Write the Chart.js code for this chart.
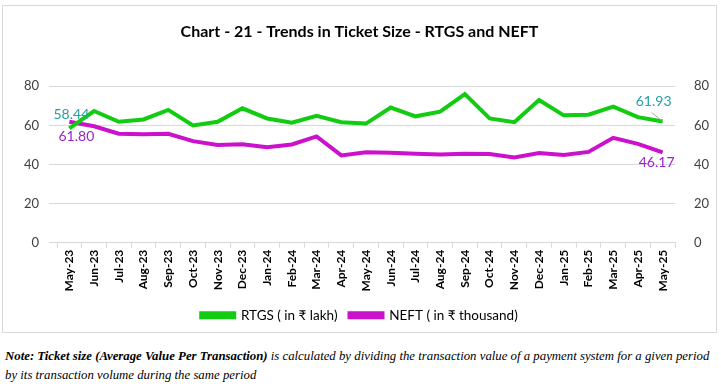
<!DOCTYPE html>
<html lang="en">
<head>
<meta charset="UTF-8">
<title>Chart - 21 - Trends in Ticket Size - RTGS and NEFT</title>
<script src="https://cdn.jsdelivr.net/npm/chart.js"></script>
<style>
    body { margin: 0; background: #fff; width: 721px; height: 387px; overflow: hidden; position: relative; }
    .frame { position: absolute; left: 2px; top: 5px; width: 713px; height: 326px; border: 1px solid #d9d9d9; }
    .frame canvas { display: block; }
    .note { position: absolute; left: 5px; top: 347px; width: 714px; font-family: "Liberation Serif", serif; font-style: italic; font-size: 12.8px; line-height: 19px; color: #000; }
</style>
</head>
<body>
<div class="frame"><canvas id="ticketChart" width="713" height="326"></canvas></div>
<div class="note"><b>Note: Ticket size (Average Value Per Transaction)</b> is calculated by dividing the transaction value of a payment system for a given period<br>by its transaction volume during the same period</div>
<script>
var months = ['May-23', 'Jun-23', 'Jul-23', 'Aug-23', 'Sep-23', 'Oct-23', 'Nov-23', 'Dec-23', 'Jan-24', 'Feb-24', 'Mar-24', 'Apr-24', 'May-24',
              'Jun-24', 'Jul-24', 'Aug-24', 'Sep-24', 'Oct-24', 'Nov-24', 'Dec-24', 'Jan-25', 'Feb-25', 'Mar-25', 'Apr-25', 'May-25'];
var rtgs = [58.44, 67.3, 61.8, 63.0, 67.9, 59.9, 61.8, 68.7, 63.5, 61.3, 64.9, 61.6, 60.9,
            69.1, 64.6, 67.0, 76.0, 63.5, 61.6, 72.9, 65.1, 65.4, 69.6, 64.2, 61.93];
var neft = [61.80, 59.5, 55.7, 55.4, 55.7, 51.9, 50.0, 50.3, 48.8, 50.2, 54.3, 44.6, 46.2,
            46.0, 45.5, 45.1, 45.5, 45.3, 43.6, 45.8, 44.8, 46.4, 53.6, 50.5, 46.17];
var seriesNames = ['RTGS ( in \u20b9 lakh)', 'NEFT ( in \u20b9 thousand)'];
var axisTicks = [0, 20, 40, 60, 80];

var fontMain = 'Lato, "Open Sans", sans-serif';

// labels on first and last points, like the excel data labels
var endLabels = {
    id: 'endLabels',
    afterDatasetsDraw: function(chart) {
        var ctx = chart.ctx;
        ctx.save();
        ctx.font = '14px ' + fontMain;
        ctx.textAlign = 'center';
        ctx.textBaseline = 'middle';
        var g = chart.getDatasetMeta(0).data;
        var p = chart.getDatasetMeta(1).data;
        var last = g.length - 1;
        ctx.fillStyle = '#23a0a6';
        ctx.fillText(rtgs[0].toFixed(2), g[0].x + 2, g[0].y - 14);
        ctx.fillText(rtgs[last].toFixed(2), g[last].x - 9, g[last].y - 20);
        ctx.fillStyle = '#9b22d1';
        ctx.fillText(neft[0].toFixed(2), p[0].x + 7, p[0].y + 15);
        ctx.fillText(neft[last].toFixed(2), p[last].x - 6, p[last].y + 10);
        // leader line for last RTGS label
        ctx.strokeStyle = '#a6a6a6';
        ctx.lineWidth = 1;
        ctx.beginPath();
        ctx.moveTo(g[last].x - 11, g[last].y - 9);
        ctx.lineTo(g[last].x - 1, g[last].y - 1);
        ctx.stroke();
        ctx.restore();
    }
};

var ctx = document.getElementById('ticketChart').getContext('2d');
new Chart(ctx, {
    type: 'line',
    data: {
        labels: months,
        datasets: [{
            label: seriesNames[0],
            data: rtgs,
            borderColor: '#11cc11',
            backgroundColor: '#11cc11',
            borderWidth: 4,
            pointRadius: 0,
            tension: 0,
            yAxisID: 'y'
        }, {
            label: seriesNames[1],
            data: neft,
            borderColor: '#cc11cc',
            backgroundColor: '#cc11cc',
            borderWidth: 4,
            pointRadius: 0,
            tension: 0,
            yAxisID: 'y'
        }]
    },
    options: {
        responsive: false,
        animation: false,
        layout: { padding: { left: 0, right: 0, top: 0, bottom: 0 } },
        plugins: {
            title: {
                display: true,
                text: 'Chart - 21 - Trends in Ticket Size - RTGS and NEFT',
                color: '#000',
                font: { family: fontMain, size: 16, weight: 'bold' },
                padding: { top: 16, bottom: 45 }
            },
            legend: {
                position: 'bottom',
                labels: {
                    color: '#000',
                    font: { family: fontMain, size: 13.5 },
                    boxWidth: 33,
                    boxHeight: 4,
                    padding: 12
                }
            },
            tooltip: { enabled: false }
        },
        scales: {
            x: {
                offset: true,
                afterFit: function(axis) { axis.height += 3; },
                grid: { display: true, drawOnChartArea: false, offset: true, color: '#d9d9d9', tickLength: 5 },
                border: { color: '#d9d9d9' },
                ticks: {
                    color: '#000',
                    font: { family: fontMain, size: 12, weight: 'bold' },
                    minRotation: 90,
                    maxRotation: 90,
                    autoSkip: false,
                    padding: 2
                }
            },
            y: {
                position: 'left',
                min: 0,
                max: 80,
                afterBuildTicks: function(axis) { axis.ticks = axisTicks.map(function(v) { return { value: v }; }); },
                afterFit: function(axis) { axis.width = 54; },
                grid: { color: '#d9d9d9' },
                border: { display: false },
                ticks: { color: '#404040', font: { family: fontMain, size: 13 }, padding: 10 }
            },
            y2: {
                position: 'right',
                min: 0,
                max: 80,
                afterBuildTicks: function(axis) { axis.ticks = axisTicks.map(function(v) { return { value: v }; }); },
                afterFit: function(axis) { axis.width = 41; },
                grid: { display: false },
                border: { display: false },
                ticks: { color: '#404040', font: { family: fontMain, size: 13 }, padding: 11 }
            }
        }
    },
    plugins: [endLabels]
});
</script>
</body>
</html>
